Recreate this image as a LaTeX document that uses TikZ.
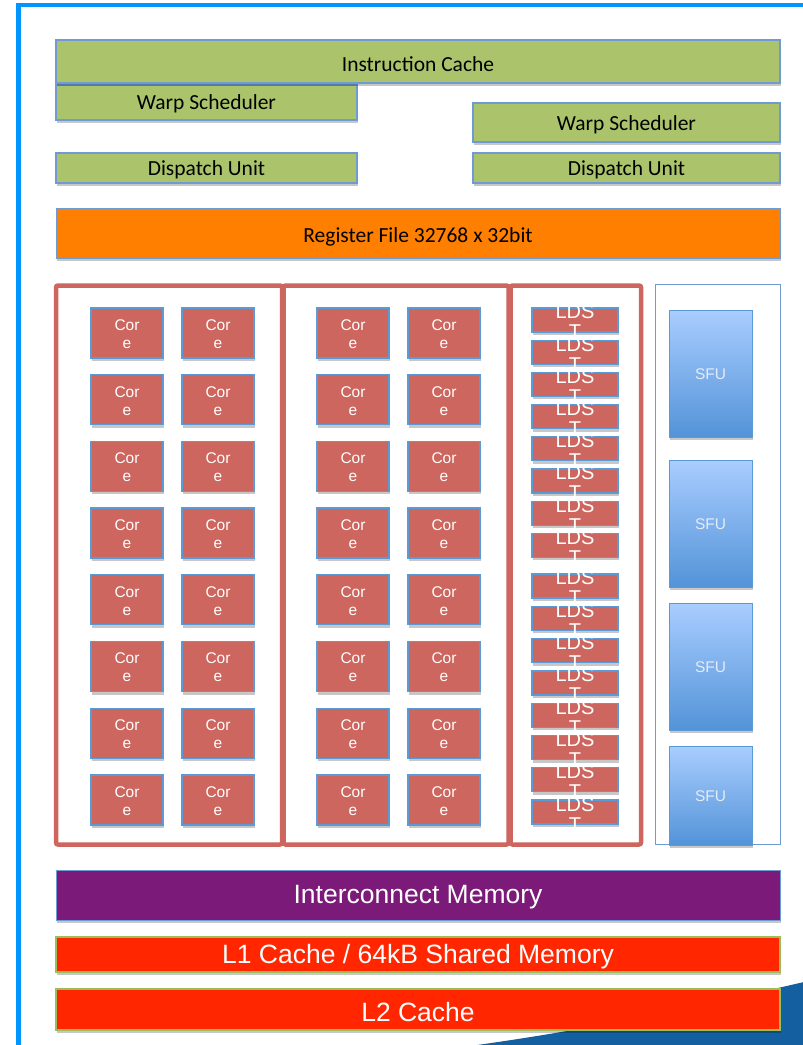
\documentclass[tikz,border=0pt]{standalone}
\usepackage{fontspec}
\newfontfamily\carlito{Carlito}
\newfontfamily\arialf{Liberation Sans}
\usetikzlibrary{shadows}
\definecolor{gfill}{RGB}{171,196,108}
\definecolor{gborder}{RGB}{111,155,210}
\definecolor{corered}{RGB}{205,102,94}
\definecolor{coreborder}{RGB}{91,155,213}
\definecolor{regorange}{RGB}{255,128,0}
\definecolor{icpurple}{RGB}{123,26,120}
\definecolor{cachered}{RGB}{255,38,0}
\definecolor{cacheborder}{RGB}{155,190,90}
\definecolor{swoosh}{RGB}{20,95,160}
\definecolor{framblue}{RGB}{0,150,255}
\definecolor{sfutop}{RGB}{169,205,255}
\definecolor{sfubot}{RGB}{83,147,216}
\definecolor{sfutext}{RGB}{228,236,246}
\tikzset{
  shd/.style={drop shadow={shadow xshift=0.8pt, shadow yshift=-3pt, opacity=0.22, fill=black}},
  blk/.style={shape=rectangle, inner sep=0pt, outer sep=0pt, anchor=north west, shd},
  greenbox/.style={blk, fill=gfill, draw=gborder, line width=1.3pt},
  gtext/.style={inner sep=0pt, text=black, font={\carlito\fontsize{21.5}{24}\selectfont}},
  corebox/.style={blk, fill=corered, draw=coreborder, line width=1.3pt, minimum width=72pt, minimum height=50pt},
  coretext/.style={text=white, align=center, font={\arialf\fontsize{15.5}{18}\selectfont}, inner sep=0pt},
  ldstbox/.style={blk, fill=corered, draw=coreborder, line width=1.3pt, minimum width=86pt, minimum height=24pt},
  ldsttext/.style={text=white, align=center, font={\arialf\fontsize{20}{20}\selectfont}, inner sep=0pt},
  sfubox/.style={blk, top color=sfutop, bottom color=sfubot, draw=coreborder, line width=1pt, minimum width=83pt},
  sfutxt/.style={text=sfutext, font={\arialf\fontsize{15.5}{18}\selectfont}, inner sep=0pt},
  groupframe/.style={draw=corered, line width=4.5pt, rounded corners=2pt},
  bigbar/.style={blk, minimum width=724pt},
  bigtext/.style={inner sep=0pt, text=white, font={\arialf\fontsize{26.5}{28}\selectfont}},
}
\begin{document}
\begin{tikzpicture}[x=1pt,y=-1pt]
\useasboundingbox (0,0) rectangle (803,1045);
% bottom-right swoosh
\fill[swoosh] (470,1046) .. controls (600,1028) and (700,1006) .. (804,982) -- (804,1046) -- cycle;
% outer frame
\draw[framblue, line width=4.6pt] (18.3,1050) -- (18.3,5) -- (810,5);

% top green boxes
\node[greenbox, minimum width=301pt, minimum height=35pt] (ws1) at (56,85) {};
\node[greenbox, minimum width=724pt, minimum height=43pt] (ic) at (56,40) {};
\node[greenbox, minimum width=301pt, minimum height=30pt] (du1) at (56,153) {};
\node[greenbox, minimum width=307pt, minimum height=39pt] (ws2) at (473,103) {};
\node[greenbox, minimum width=307pt, minimum height=30pt] (du2) at (473,153) {};
\node[blk, fill=regorange, draw=gborder, line width=1pt, minimum width=724pt, minimum height=50pt] (rf) at (56,208) {};
\node[gtext] (ictext) at (418,64) {Instruction Cache};
\node[gtext] (ws1text) at (206.5,104) {Warp Scheduler};
\node[gtext] (du1text) at (206.5,170) {Dispatch Unit};
\node[gtext] (ws2text) at (626.5,125) {Warp Scheduler};
\node[gtext] (du2text) at (626.5,170) {Dispatch Unit};
\node[gtext] (rftext) at (418,237) {Register File 32768 x 32bit};

% group frames
\draw[groupframe] (56,285.5) rectangle (282,844.5);
\draw[groupframe] (283.5,285.5) rectangle (508.5,844.5);
\draw[groupframe] (510.5,285.5) rectangle (641,844.5);
\draw[gborder, line width=1.2pt] (655.5,284.5) rectangle (780.5,844.5);

% cores
\foreach \r in {0,...,7}{
  \foreach \c/\cx in {0/91,1/182,2/317,3/408}{
    \node[corebox] (core-\r-\c) at (\cx,{308+66.7*\r}) {};
    \node[coretext] (coret-\r-\c) at ([yshift=-1pt]core-\r-\c.center) {Cor\\e};
  }
}

% LDST units
\foreach \k in {0,...,7}{
  \node[ldstbox] (ldst-\k) at (532,{308+32.2*\k}) {};
}
\foreach \k in {8,...,15}{
  \node[ldstbox] (ldst-\k) at (532,{574+32.3*(\k-8)}) {};
}
\foreach \k in {0,...,15}{
  \node[ldsttext] (ldstt-\k) at ([yshift=-2pt]ldst-\k.center) {LDS\\T};
}

% SFUs
\node[sfubox, minimum height=127pt] (sfu1) at (669,310) {};
\node[sfubox, minimum height=127pt] (sfu2) at (669,460) {};
\node[sfubox, minimum height=127pt] (sfu3) at (669,603) {};
\node[sfubox, minimum height=99pt] (sfu4) at (669,746) {};
\foreach \s in {1,2,3,4}{
  \node[sfutxt] (sfut\s) at ([yshift=-1pt]sfu\s.center) {SFU};
}

% bottom bars
\node[bigbar, fill=icpurple, draw=gborder, line width=1pt, minimum height=50pt] (icm) at (56,870) {};
\node[bigbar, fill=cachered, draw=cacheborder, line width=1.3pt, minimum height=35pt] (l1) at (56,937) {};
\node[bigbar, fill=cachered, draw=cacheborder, line width=1.3pt, minimum height=41pt] (l2) at (56,989) {};
\node[bigtext] (icmtext) at (418,897) {Interconnect Memory};
\node[bigtext] (l1text) at (418,957) {L1 Cache / 64kB Shared Memory};
\node[bigtext] (l2text) at (418,1012) {L2 Cache};
\end{tikzpicture}
\end{document}
